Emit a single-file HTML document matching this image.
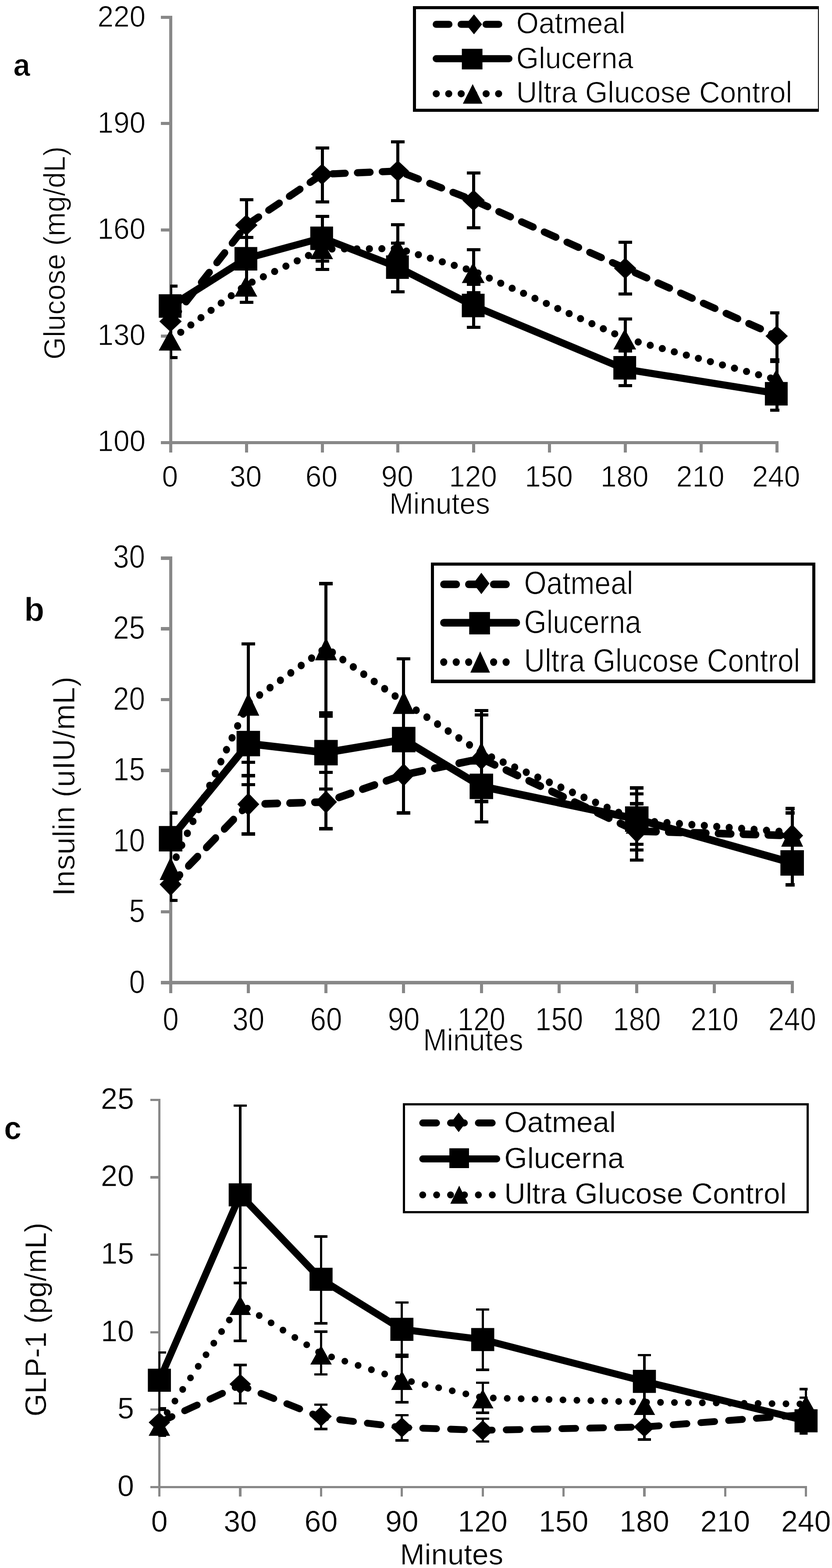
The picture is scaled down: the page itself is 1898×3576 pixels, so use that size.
<!DOCTYPE html>
<html lang="en">
<head>
<meta charset="utf-8">
<title>Glucose, insulin and GLP-1 responses</title>
<style>
html,body{margin:0;padding:0;background:#fff;}
body{width:1898px;height:3576px;overflow:hidden;}
svg{display:block;}
text{font-family:'Liberation Sans',sans-serif;font-kerning:none;}
</style>
</head>
<body>
<svg width="1898" height="3576" viewBox="0 0 1898 3576" role="img" aria-label="Glucose, insulin and GLP-1 responses over 240 minutes">
<rect width="1898" height="3576" fill="#fff"/>
<g id="axes-a" shape-rendering="crispEdges">
<rect x="385.8" y="35.5" width="7" height="996.3" fill="#888888"/>
<rect x="366.8" y="1005.8" width="1408.8" height="7" fill="#888888"/>
<rect x="366.8" y="1005.8" width="22.5" height="7" fill="#888888"/>
<rect x="366.8" y="763.22" width="22.5" height="7" fill="#888888"/>
<rect x="366.8" y="520.65" width="22.5" height="7" fill="#888888"/>
<rect x="366.8" y="278.08" width="22.5" height="7" fill="#888888"/>
<rect x="366.8" y="35.5" width="22.5" height="7" fill="#888888"/>
<rect x="385.8" y="1009.3" width="7" height="22.5" fill="#888888"/>
<rect x="558.65" y="1009.3" width="7" height="22.5" fill="#888888"/>
<rect x="731.5" y="1009.3" width="7" height="22.5" fill="#888888"/>
<rect x="904.35" y="1009.3" width="7" height="22.5" fill="#888888"/>
<rect x="1077.2" y="1009.3" width="7" height="22.5" fill="#888888"/>
<rect x="1250.05" y="1009.3" width="7" height="22.5" fill="#888888"/>
<rect x="1422.9" y="1009.3" width="7" height="22.5" fill="#888888"/>
<rect x="1595.75" y="1009.3" width="7" height="22.5" fill="#888888"/>
<rect x="1768.6" y="1009.3" width="7" height="22.5" fill="#888888"/>
</g>
<g id="labels-a" fill="#000">
<text transform="translate(332 1029.2) scale(1 1.045)" font-size="65.7" text-anchor="end" font-weight="normal" font-family="'Liberation Sans', sans-serif" stroke="#fff" stroke-width="1.0">100</text>
<text transform="translate(332 787.2) scale(1 1.045)" font-size="65.7" text-anchor="end" font-weight="normal" font-family="'Liberation Sans', sans-serif" stroke="#fff" stroke-width="1.0">130</text>
<text transform="translate(332 545.2) scale(1 1.045)" font-size="65.7" text-anchor="end" font-weight="normal" font-family="'Liberation Sans', sans-serif" stroke="#fff" stroke-width="1.0">160</text>
<text transform="translate(332 303.2) scale(1 1.045)" font-size="65.7" text-anchor="end" font-weight="normal" font-family="'Liberation Sans', sans-serif" stroke="#fff" stroke-width="1.0">190</text>
<text transform="translate(332 61.2) scale(1 1.045)" font-size="65.7" text-anchor="end" font-weight="normal" font-family="'Liberation Sans', sans-serif" stroke="#fff" stroke-width="1.0">220</text>
<text transform="translate(387.7 1109.7) scale(1 1.045)" font-size="65.7" text-anchor="middle" font-weight="normal" font-family="'Liberation Sans', sans-serif" stroke="#fff" stroke-width="1.0">0</text>
<text transform="translate(560.55 1109.7) scale(1 1.045)" font-size="65.7" text-anchor="middle" font-weight="normal" font-family="'Liberation Sans', sans-serif" stroke="#fff" stroke-width="1.0">30</text>
<text transform="translate(733.4 1109.7) scale(1 1.045)" font-size="65.7" text-anchor="middle" font-weight="normal" font-family="'Liberation Sans', sans-serif" stroke="#fff" stroke-width="1.0">60</text>
<text transform="translate(906.25 1109.7) scale(1 1.045)" font-size="65.7" text-anchor="middle" font-weight="normal" font-family="'Liberation Sans', sans-serif" stroke="#fff" stroke-width="1.0">90</text>
<text transform="translate(1079.1 1109.7) scale(1 1.045)" font-size="65.7" text-anchor="middle" font-weight="normal" font-family="'Liberation Sans', sans-serif" stroke="#fff" stroke-width="1.0">120</text>
<text transform="translate(1251.95 1109.7) scale(1 1.045)" font-size="65.7" text-anchor="middle" font-weight="normal" font-family="'Liberation Sans', sans-serif" stroke="#fff" stroke-width="1.0">150</text>
<text transform="translate(1424.8 1109.7) scale(1 1.045)" font-size="65.7" text-anchor="middle" font-weight="normal" font-family="'Liberation Sans', sans-serif" stroke="#fff" stroke-width="1.0">180</text>
<text transform="translate(1597.65 1109.7) scale(1 1.045)" font-size="65.7" text-anchor="middle" font-weight="normal" font-family="'Liberation Sans', sans-serif" stroke="#fff" stroke-width="1.0">210</text>
<text transform="translate(1770.5 1109.7) scale(1 1.045)" font-size="65.7" text-anchor="middle" font-weight="normal" font-family="'Liberation Sans', sans-serif" stroke="#fff" stroke-width="1.0">240</text>
<text transform="translate(888.22 1171.7) scale(1 1.031)" font-size="65.59" text-anchor="start" font-weight="normal" font-family="'Liberation Sans', sans-serif" stroke="#fff" stroke-width="1.0">Minutes</text>
<text transform="translate(148.2 820.11) rotate(-90) scale(1 1.0408)" font-size="65.78" text-anchor="start" font-weight="normal" font-family="'Liberation Sans', sans-serif" stroke="#fff" stroke-width="1.0">Glucose (mg/dL)</text>
<text transform="translate(30.59 172.6) scale(1 1.0613)" font-size="68.64" text-anchor="start" font-weight="bold" font-family="'Liberation Sans', sans-serif" stroke="#fff" stroke-width="1.0">a</text>
</g>
<clipPath id="clip-a"><rect x="388.2" y="0" width="1389.8" height="1200"/></clipPath>
<g id="err-a" clip-path="url(#clip-a)" fill="#000" shape-rendering="crispEdges">
<rect x="385.8" y="652" width="7" height="163" fill="#000"/>
<rect x="373.8" y="648.5" width="31" height="7" fill="#000"/>
<rect x="373.8" y="811.5" width="31" height="7" fill="#000"/>
<rect x="558.65" y="455.6" width="7" height="234.1" fill="#000"/>
<rect x="546.65" y="452.1" width="31" height="7" fill="#000"/>
<rect x="546.65" y="537.5" width="31" height="7" fill="#000"/>
<rect x="546.65" y="686.2" width="31" height="7" fill="#000"/>
<rect x="731.5" y="337.4" width="7" height="122.7" fill="#000"/>
<rect x="731.5" y="493.9" width="7" height="120.3" fill="#000"/>
<rect x="719.5" y="333.9" width="31" height="7" fill="#000"/>
<rect x="719.5" y="456.6" width="31" height="7" fill="#000"/>
<rect x="719.5" y="490.4" width="31" height="7" fill="#000"/>
<rect x="719.5" y="591.6" width="31" height="7" fill="#000"/>
<rect x="719.5" y="610.7" width="31" height="7" fill="#000"/>
<rect x="904.35" y="323" width="7" height="134.3" fill="#000"/>
<rect x="904.35" y="512" width="7" height="153.7" fill="#000"/>
<rect x="892.35" y="319.5" width="31" height="7" fill="#000"/>
<rect x="892.35" y="453.8" width="31" height="7" fill="#000"/>
<rect x="892.35" y="508.5" width="31" height="7" fill="#000"/>
<rect x="892.35" y="550.5" width="31" height="7" fill="#000"/>
<rect x="892.35" y="662.2" width="31" height="7" fill="#000"/>
<rect x="1077.2" y="394.5" width="7" height="124.8" fill="#000"/>
<rect x="1077.2" y="569.3" width="7" height="177" fill="#000"/>
<rect x="1065.2" y="391" width="31" height="7" fill="#000"/>
<rect x="1065.2" y="515.8" width="31" height="7" fill="#000"/>
<rect x="1065.2" y="565.8" width="31" height="7" fill="#000"/>
<rect x="1065.2" y="645" width="31" height="7" fill="#000"/>
<rect x="1065.2" y="664.1" width="31" height="7" fill="#000"/>
<rect x="1065.2" y="742.8" width="31" height="7" fill="#000"/>
<rect x="1422.9" y="552.6" width="7" height="118.3" fill="#000"/>
<rect x="1422.9" y="727.7" width="7" height="151.9" fill="#000"/>
<rect x="1410.9" y="549.1" width="31" height="7" fill="#000"/>
<rect x="1410.9" y="667.4" width="31" height="7" fill="#000"/>
<rect x="1410.9" y="724.2" width="31" height="7" fill="#000"/>
<rect x="1410.9" y="797" width="31" height="7" fill="#000"/>
<rect x="1410.9" y="876.1" width="31" height="7" fill="#000"/>
<rect x="1768.6" y="713.5" width="7" height="222.2" fill="#000"/>
<rect x="1756.6" y="710" width="31" height="7" fill="#000"/>
<rect x="1756.6" y="816.7" width="31" height="11.3" fill="#000"/>
<rect x="1756.6" y="932.2" width="31" height="7" fill="#000"/>
</g>
<g id="series-a" fill="#000">
<path d="M389.3,733 L562.15,513.5 L735,397.5 L907.85,390 L1080.7,457 L1426.4,611.9 L1772.1,766.5" fill="none" stroke="#000" stroke-width="16.3" stroke-linejoin="round" stroke-dasharray="28.9 27.9" stroke-dashoffset="0" stroke-linecap="round"/>
<path d="M389.3,698.5 L562.15,589.5 L735,542.5 L907.85,609.5 L1080.7,697.5 L1426.4,842 L1772.1,897.2" fill="none" stroke="#000" stroke-width="16.3" stroke-linejoin="round" stroke-linecap="butt"/>
<path d="M389.3,774.5 L562.15,649.5 L735,568 L907.85,567 L1080.7,618.5 L1426.4,772 L1772.1,866" fill="none" stroke="#000" stroke-width="16.3" stroke-linejoin="round" stroke-dasharray="0 28.45" stroke-dashoffset="0" stroke-linecap="round"/>
<polygon points="363.5,733 389,709 414.5,733 389,757"/>
<polygon points="536.35,513.5 561.85,489.5 587.35,513.5 561.85,537.5"/>
<polygon points="709.2,397.5 734.7,373.5 760.2,397.5 734.7,421.5"/>
<polygon points="882.05,390 907.55,366 933.05,390 907.55,414"/>
<polygon points="1054.9,457 1080.4,433 1105.9,457 1080.4,481"/>
<polygon points="1400.6,611.9 1426.1,587.9 1451.6,611.9 1426.1,635.9"/>
<polygon points="1746.3,766.5 1771.8,742.5 1797.3,766.5 1771.8,790.5"/>
<polygon points="362.1,799.4 388.1,752.4 414.1,799.4"/>
<polygon points="534.95,676.4 560.95,629.4 586.95,676.4"/>
<polygon points="707.8,591 733.8,544 759.8,591"/>
<polygon points="880.65,590.5 906.65,543.5 932.65,590.5"/>
<polygon points="1053.5,645.5 1079.5,598.5 1105.5,645.5"/>
<polygon points="1399.2,797 1425.2,750 1451.2,797"/>
<polygon points="1744.9,889.5 1770.9,842.5 1796.9,889.5"/>
<rect x="362.1" y="671.1" width="52" height="53.6" fill="#000"/>
<rect x="534.95" y="563.4" width="52" height="53.6" fill="#000"/>
<rect x="707.8" y="516.7" width="52" height="53.6" fill="#000"/>
<rect x="880.65" y="582.4" width="52" height="53.6" fill="#000"/>
<rect x="1053.5" y="669.9" width="52" height="53.6" fill="#000"/>
<rect x="1399.2" y="812" width="52" height="53.6" fill="#000"/>
<rect x="1744.9" y="871.2" width="52" height="53.6" fill="#000"/>
</g>
<g id="legend-a" fill="#000">
<g shape-rendering="crispEdges">
<rect x="942.1" y="14.1" width="925.9" height="241.2" fill="#fff"/>
<rect x="942.1" y="14.1" width="925.9" height="7" fill="#000"/>
<rect x="942.1" y="248.3" width="925.9" height="7" fill="#000"/>
<rect x="942.1" y="14.1" width="7" height="241.2" fill="#000"/>
<rect x="1865.5" y="14.1" width="2.5" height="241.2" fill="#000"/>
</g>
<path d="M995.2,55.5 L1160.9,55.5" fill="none" stroke="#000" stroke-width="16.2" stroke-linejoin="round" stroke-dasharray="28.9 27.9" stroke-dashoffset="0" stroke-linecap="round"/>
<path d="M995.2,133.8 L1160.9,133.8" fill="none" stroke="#000" stroke-width="16.2" stroke-linejoin="round" stroke-linecap="round"/>
<path d="M995.2,213.8 L1160.9,213.8" fill="none" stroke="#000" stroke-width="16.2" stroke-linejoin="round" stroke-dasharray="0 28.45" stroke-dashoffset="0" stroke-linecap="round"/>
<polygon points="1062.8,55.5 1081.3,32.8 1099.8,55.5 1081.3,78.2"/>
<rect x="1053.6" y="111.3" width="47" height="47" fill="#000"/>
<polygon points="1055.9,236.5 1078.3,191.7 1100.7,236.5"/>
<text transform="translate(1177.8 76) scale(1 1.03)" font-size="65.85" text-anchor="start" font-weight="normal" font-family="'Liberation Sans', sans-serif" stroke="#fff" stroke-width="1.0">Oatmeal</text>
<text transform="translate(1177.8 155.8) scale(1 1.03)" font-size="65.85" text-anchor="start" font-weight="normal" font-family="'Liberation Sans', sans-serif" stroke="#fff" stroke-width="1.0">Glucerna</text>
<text transform="translate(1177.8 234) scale(1 1.03)" font-size="65.85" text-anchor="start" font-weight="normal" font-family="'Liberation Sans', sans-serif" stroke="#fff" stroke-width="1.0">Ultra Glucose Control</text>
</g>
<g id="axes-b" shape-rendering="crispEdges">
<rect x="385.7" y="1269.1" width="7" height="996.3" fill="#888888"/>
<rect x="366.7" y="2237.4" width="1443.92" height="7.4" fill="#888888"/>
<rect x="366.7" y="2237.4" width="22.5" height="7.4" fill="#888888"/>
<rect x="366.7" y="2076.02" width="22.5" height="7.4" fill="#888888"/>
<rect x="366.7" y="1914.63" width="22.5" height="7.4" fill="#888888"/>
<rect x="366.7" y="1753.25" width="22.5" height="7.4" fill="#888888"/>
<rect x="366.7" y="1591.87" width="22.5" height="7.4" fill="#888888"/>
<rect x="366.7" y="1430.48" width="22.5" height="7.4" fill="#888888"/>
<rect x="366.7" y="1269.1" width="22.5" height="7.4" fill="#888888"/>
<rect x="385.7" y="2241.1" width="7" height="24.3" fill="#888888"/>
<rect x="562.94" y="2241.1" width="7" height="24.3" fill="#888888"/>
<rect x="740.18" y="2241.1" width="7" height="24.3" fill="#888888"/>
<rect x="917.42" y="2241.1" width="7" height="24.3" fill="#888888"/>
<rect x="1094.66" y="2241.1" width="7" height="24.3" fill="#888888"/>
<rect x="1271.9" y="2241.1" width="7" height="24.3" fill="#888888"/>
<rect x="1449.14" y="2241.1" width="7" height="24.3" fill="#888888"/>
<rect x="1626.38" y="2241.1" width="7" height="24.3" fill="#888888"/>
<rect x="1803.62" y="2241.1" width="7" height="24.3" fill="#888888"/>
</g>
<g id="labels-b" fill="#000">
<text transform="translate(330.8 2265.1) scale(1 1.125)" font-size="65.5" text-anchor="end" font-weight="normal" font-family="'Liberation Sans', sans-serif" stroke="#fff" stroke-width="1.0">0</text>
<text transform="translate(330.8 2103.48) scale(1 1.125)" font-size="65.5" text-anchor="end" font-weight="normal" font-family="'Liberation Sans', sans-serif" stroke="#fff" stroke-width="1.0">5</text>
<text transform="translate(330.8 1941.87) scale(1 1.125)" font-size="65.5" text-anchor="end" font-weight="normal" font-family="'Liberation Sans', sans-serif" stroke="#fff" stroke-width="1.0">10</text>
<text transform="translate(330.8 1780.25) scale(1 1.125)" font-size="65.5" text-anchor="end" font-weight="normal" font-family="'Liberation Sans', sans-serif" stroke="#fff" stroke-width="1.0">15</text>
<text transform="translate(330.8 1618.63) scale(1 1.125)" font-size="65.5" text-anchor="end" font-weight="normal" font-family="'Liberation Sans', sans-serif" stroke="#fff" stroke-width="1.0">20</text>
<text transform="translate(330.8 1457.02) scale(1 1.125)" font-size="65.5" text-anchor="end" font-weight="normal" font-family="'Liberation Sans', sans-serif" stroke="#fff" stroke-width="1.0">25</text>
<text transform="translate(330.8 1295.4) scale(1 1.125)" font-size="65.5" text-anchor="end" font-weight="normal" font-family="'Liberation Sans', sans-serif" stroke="#fff" stroke-width="1.0">30</text>
<text transform="translate(389.4 2349.5) scale(1 1.125)" font-size="65.5" text-anchor="middle" font-weight="normal" font-family="'Liberation Sans', sans-serif" stroke="#fff" stroke-width="1.0">0</text>
<text transform="translate(566.64 2349.5) scale(1 1.125)" font-size="65.5" text-anchor="middle" font-weight="normal" font-family="'Liberation Sans', sans-serif" stroke="#fff" stroke-width="1.0">30</text>
<text transform="translate(743.88 2349.5) scale(1 1.125)" font-size="65.5" text-anchor="middle" font-weight="normal" font-family="'Liberation Sans', sans-serif" stroke="#fff" stroke-width="1.0">60</text>
<text transform="translate(921.12 2349.5) scale(1 1.125)" font-size="65.5" text-anchor="middle" font-weight="normal" font-family="'Liberation Sans', sans-serif" stroke="#fff" stroke-width="1.0">90</text>
<text transform="translate(1098.36 2349.5) scale(1 1.125)" font-size="65.5" text-anchor="middle" font-weight="normal" font-family="'Liberation Sans', sans-serif" stroke="#fff" stroke-width="1.0">120</text>
<text transform="translate(1275.6 2349.5) scale(1 1.125)" font-size="65.5" text-anchor="middle" font-weight="normal" font-family="'Liberation Sans', sans-serif" stroke="#fff" stroke-width="1.0">150</text>
<text transform="translate(1452.84 2349.5) scale(1 1.125)" font-size="65.5" text-anchor="middle" font-weight="normal" font-family="'Liberation Sans', sans-serif" stroke="#fff" stroke-width="1.0">180</text>
<text transform="translate(1630.08 2349.5) scale(1 1.125)" font-size="65.5" text-anchor="middle" font-weight="normal" font-family="'Liberation Sans', sans-serif" stroke="#fff" stroke-width="1.0">210</text>
<text transform="translate(1807.32 2349.5) scale(1 1.125)" font-size="65.5" text-anchor="middle" font-weight="normal" font-family="'Liberation Sans', sans-serif" stroke="#fff" stroke-width="1.0">240</text>
<text transform="translate(965.25 2396.4) scale(1 1.0773)" font-size="65.2" text-anchor="start" font-weight="normal" font-family="'Liberation Sans', sans-serif" stroke="#fff" stroke-width="1.0">Minutes</text>
<text transform="translate(169.6 2043.65) rotate(-90) scale(1 0.979)" font-size="70.97" text-anchor="start" font-weight="normal" font-family="'Liberation Sans', sans-serif" stroke="#fff" stroke-width="1.0">Insulin (uIU/mL)</text>
<text transform="translate(55.02 1416.3) scale(1 1.0148)" font-size="75.61" text-anchor="start" font-weight="bold" font-family="'Liberation Sans', sans-serif" stroke="#fff" stroke-width="1.0">b</text>
</g>
<clipPath id="clip-b"><rect x="387.8" y="1200" width="1425" height="1200"/></clipPath>
<g id="err-b" clip-path="url(#clip-b)" fill="#000" shape-rendering="crispEdges">
<rect x="385.7" y="1853.8" width="7" height="199.9" fill="#000"/>
<rect x="373.7" y="1850.05" width="31" height="7.5" fill="#000"/>
<rect x="373.7" y="2049.95" width="31" height="7.5" fill="#000"/>
<rect x="562.94" y="1468.7" width="7" height="433.4" fill="#000"/>
<rect x="550.94" y="1464.95" width="31" height="7.5" fill="#000"/>
<rect x="550.94" y="1734.55" width="31" height="7.5" fill="#000"/>
<rect x="550.94" y="1765.25" width="31" height="7.5" fill="#000"/>
<rect x="550.94" y="1785.75" width="31" height="7.5" fill="#000"/>
<rect x="550.94" y="1898.35" width="31" height="7.5" fill="#000"/>
<rect x="740.18" y="1331" width="7" height="558.9" fill="#000"/>
<rect x="728.18" y="1327.25" width="31" height="7.5" fill="#000"/>
<rect x="728.18" y="1622.3" width="31" height="14.3" fill="#000"/>
<rect x="728.18" y="1757.55" width="31" height="7.5" fill="#000"/>
<rect x="728.18" y="1795.95" width="31" height="7.5" fill="#000"/>
<rect x="728.18" y="1886.15" width="31" height="7.5" fill="#000"/>
<rect x="917.42" y="1502.3" width="7" height="351.5" fill="#000"/>
<rect x="905.42" y="1498.55" width="31" height="7.5" fill="#000"/>
<rect x="905.42" y="1850.05" width="31" height="7.5" fill="#000"/>
<rect x="1094.66" y="1620.3" width="7" height="254" fill="#000"/>
<rect x="1082.66" y="1616.55" width="31" height="7.5" fill="#000"/>
<rect x="1082.66" y="1626.75" width="31" height="7.5" fill="#000"/>
<rect x="1082.66" y="1824.45" width="31" height="7.5" fill="#000"/>
<rect x="1082.66" y="1870.55" width="31" height="7.5" fill="#000"/>
<rect x="1449.14" y="1797.2" width="7" height="164.3" fill="#000"/>
<rect x="1437.14" y="1793.45" width="31" height="7.5" fill="#000"/>
<rect x="1437.14" y="1806.55" width="31" height="7.5" fill="#000"/>
<rect x="1437.14" y="1829.35" width="31" height="7.5" fill="#000"/>
<rect x="1437.14" y="1921.85" width="31" height="7.5" fill="#000"/>
<rect x="1437.14" y="1934.95" width="31" height="7.5" fill="#000"/>
<rect x="1437.14" y="1957.75" width="31" height="7.5" fill="#000"/>
<rect x="1803.62" y="1843.8" width="7" height="174.2" fill="#000"/>
<rect x="1791.62" y="1840.05" width="31" height="7.5" fill="#000"/>
<rect x="1791.62" y="1850.05" width="31" height="7.5" fill="#000"/>
<rect x="1791.62" y="2014.25" width="31" height="7.5" fill="#000"/>
</g>
<g id="series-b" fill="#000">
<path d="M389.2,1885.05 L566.44,1714.3 L743.68,1709.35 L920.92,1651.4 L1098.16,1616.82 L1452.64,1771.5 L1807.12,1781.03" transform="scale(1 1.07)" fill="none" stroke="#000" stroke-width="16.3" stroke-linejoin="round" stroke-dasharray="28.9 27.9" stroke-dashoffset="0" stroke-linecap="round"/>
<path d="M389.2,1787.66 L566.44,1584.86 L743.68,1604.21 L920.92,1576.36 L1098.16,1676.07 L1452.64,1745.79 L1807.12,1839.25" transform="scale(1 1.07)" fill="none" stroke="#000" stroke-width="16.3" stroke-linejoin="round" stroke-linecap="butt"/>
<path d="M389.2,1852.34 L566.44,1498.6 L743.68,1380.84 L920.92,1496.26 L1098.16,1604.21 L1452.64,1748.6 L1807.12,1774.3" transform="scale(1 1.07)" fill="none" stroke="#000" stroke-width="16.3" stroke-linejoin="round" stroke-dasharray="0 28.45" stroke-dashoffset="0" stroke-linecap="round"/>
<polygon points="364.2,2017 389.2,1991 414.2,2017 389.2,2043"/>
<polygon points="541.44,1834.3 566.44,1808.3 591.44,1834.3 566.44,1860.3"/>
<polygon points="718.68,1829 743.68,1803 768.68,1829 743.68,1855"/>
<polygon points="895.92,1767 920.92,1741 945.92,1767 920.92,1793"/>
<polygon points="1073.16,1730 1098.16,1704 1123.16,1730 1098.16,1756"/>
<polygon points="1427.64,1895.5 1452.64,1869.5 1477.64,1895.5 1452.64,1921.5"/>
<polygon points="1782.12,1905.7 1807.12,1879.7 1832.12,1905.7 1807.12,1931.7"/>
<polygon points="364.2,2007.05 389.2,1954.55 414.2,2007.05"/>
<polygon points="541.44,1632.25 566.44,1579.75 591.44,1632.25"/>
<polygon points="718.68,1505.95 743.68,1453.45 768.68,1505.95"/>
<polygon points="895.92,1628.25 920.92,1575.75 945.92,1628.25"/>
<polygon points="1073.16,1743.75 1098.16,1691.25 1123.16,1743.75"/>
<polygon points="1427.64,1901.25 1452.64,1848.75 1477.64,1901.25"/>
<polygon points="1782.12,1930.95 1807.12,1878.45 1832.12,1930.95"/>
<rect x="362.4" y="1883.8" width="53.6" height="58" fill="#000"/>
<rect x="539.64" y="1666.8" width="53.6" height="58" fill="#000"/>
<rect x="716.88" y="1687.5" width="53.6" height="58" fill="#000"/>
<rect x="894.12" y="1657.7" width="53.6" height="58" fill="#000"/>
<rect x="1071.36" y="1764.4" width="53.6" height="58" fill="#000"/>
<rect x="1425.84" y="1839" width="53.6" height="58" fill="#000"/>
<rect x="1780.32" y="1939" width="53.6" height="58" fill="#000"/>
</g>
<g id="legend-b" fill="#000">
<g shape-rendering="crispEdges">
<rect x="982.8" y="1283.1" width="877.3" height="274.4" fill="#fff"/>
<rect x="982.8" y="1283.1" width="877.3" height="7.3" fill="#000"/>
<rect x="982.8" y="1550.2" width="877.3" height="7.3" fill="#000"/>
<rect x="982.8" y="1283.1" width="7.3" height="274.4" fill="#000"/>
<rect x="1852.8" y="1283.1" width="7.3" height="274.4" fill="#000"/>
</g>
<path d="M1012.3,1245.42 L1178.2,1245.42" transform="scale(1 1.07)" fill="none" stroke="#000" stroke-width="16.3" stroke-linejoin="round" stroke-dasharray="28.9 27.9" stroke-dashoffset="0" stroke-linecap="round"/>
<path d="M1012.3,1327.29 L1178.2,1327.29" transform="scale(1 1.07)" fill="none" stroke="#000" stroke-width="16.3" stroke-linejoin="round" stroke-linecap="round"/>
<path d="M1012.3,1411.21 L1178.2,1411.21" transform="scale(1 1.07)" fill="none" stroke="#000" stroke-width="16.3" stroke-linejoin="round" stroke-dasharray="0 28.45" stroke-dashoffset="0" stroke-linecap="round"/>
<polygon points="1079.6,1330.7 1098.1,1306.3 1116.6,1330.7 1098.1,1355.1"/>
<rect x="1070.4" y="1395.8" width="47.4" height="51" fill="#000"/>
<polygon points="1073,1534 1095.4,1485.4 1117.8,1534"/>
<text transform="translate(1195.4 1355) scale(1 1.12)" font-size="65.9" text-anchor="start" font-weight="normal" font-family="'Liberation Sans', sans-serif" stroke="#fff" stroke-width="1.0">Oatmeal</text>
<text transform="translate(1195.4 1444.3) scale(1 1.12)" font-size="65.9" text-anchor="start" font-weight="normal" font-family="'Liberation Sans', sans-serif" stroke="#fff" stroke-width="1.0">Glucerna</text>
<text transform="translate(1195.4 1532) scale(1 1.12)" font-size="65.9" text-anchor="start" font-weight="normal" font-family="'Liberation Sans', sans-serif" stroke="#fff" stroke-width="1.0">Ultra Glucose Control</text>
</g>
<g id="axes-c" shape-rendering="crispEdges">
<rect x="361" y="2505.8" width="5.2" height="906.7" fill="#888888"/>
<rect x="342.6" y="3388.9" width="1498.8" height="5.2" fill="#888888"/>
<rect x="342.6" y="3388.9" width="21" height="5.2" fill="#888888"/>
<rect x="342.6" y="3212.28" width="21" height="5.2" fill="#888888"/>
<rect x="342.6" y="3035.66" width="21" height="5.2" fill="#888888"/>
<rect x="342.6" y="2859.04" width="21" height="5.2" fill="#888888"/>
<rect x="342.6" y="2682.42" width="21" height="5.2" fill="#888888"/>
<rect x="342.6" y="2505.8" width="21" height="5.2" fill="#888888"/>
<rect x="361" y="3391.5" width="5.2" height="21" fill="#888888"/>
<rect x="545.4" y="3391.5" width="5.2" height="21" fill="#888888"/>
<rect x="729.8" y="3391.5" width="5.2" height="21" fill="#888888"/>
<rect x="914.2" y="3391.5" width="5.2" height="21" fill="#888888"/>
<rect x="1098.6" y="3391.5" width="5.2" height="21" fill="#888888"/>
<rect x="1283" y="3391.5" width="5.2" height="21" fill="#888888"/>
<rect x="1467.4" y="3391.5" width="5.2" height="21" fill="#888888"/>
<rect x="1651.8" y="3391.5" width="5.2" height="21" fill="#888888"/>
<rect x="1836.2" y="3391.5" width="5.2" height="21" fill="#888888"/>
</g>
<g id="labels-c" fill="#000">
<text transform="translate(305.7 3412.1) scale(1 1.02)" font-size="68" text-anchor="end" font-weight="normal" font-family="'Liberation Sans', sans-serif" stroke="#fff" stroke-width="0.6">0</text>
<text transform="translate(305.7 3235.4) scale(1 1.02)" font-size="68" text-anchor="end" font-weight="normal" font-family="'Liberation Sans', sans-serif" stroke="#fff" stroke-width="0.6">5</text>
<text transform="translate(305.7 3058.7) scale(1 1.02)" font-size="68" text-anchor="end" font-weight="normal" font-family="'Liberation Sans', sans-serif" stroke="#fff" stroke-width="0.6">10</text>
<text transform="translate(305.7 2882) scale(1 1.02)" font-size="68" text-anchor="end" font-weight="normal" font-family="'Liberation Sans', sans-serif" stroke="#fff" stroke-width="0.6">15</text>
<text transform="translate(305.7 2705.3) scale(1 1.02)" font-size="68" text-anchor="end" font-weight="normal" font-family="'Liberation Sans', sans-serif" stroke="#fff" stroke-width="0.6">20</text>
<text transform="translate(305.7 2528.6) scale(1 1.02)" font-size="68" text-anchor="end" font-weight="normal" font-family="'Liberation Sans', sans-serif" stroke="#fff" stroke-width="0.6">25</text>
<text transform="translate(363.6 3493.4) scale(1 1.02)" font-size="68" text-anchor="middle" font-weight="normal" font-family="'Liberation Sans', sans-serif" stroke="#fff" stroke-width="0.6">0</text>
<text transform="translate(548 3493.4) scale(1 1.02)" font-size="68" text-anchor="middle" font-weight="normal" font-family="'Liberation Sans', sans-serif" stroke="#fff" stroke-width="0.6">30</text>
<text transform="translate(732.4 3493.4) scale(1 1.02)" font-size="68" text-anchor="middle" font-weight="normal" font-family="'Liberation Sans', sans-serif" stroke="#fff" stroke-width="0.6">60</text>
<text transform="translate(916.8 3493.4) scale(1 1.02)" font-size="68" text-anchor="middle" font-weight="normal" font-family="'Liberation Sans', sans-serif" stroke="#fff" stroke-width="0.6">90</text>
<text transform="translate(1101.2 3493.4) scale(1 1.02)" font-size="68" text-anchor="middle" font-weight="normal" font-family="'Liberation Sans', sans-serif" stroke="#fff" stroke-width="0.6">120</text>
<text transform="translate(1285.6 3493.4) scale(1 1.02)" font-size="68" text-anchor="middle" font-weight="normal" font-family="'Liberation Sans', sans-serif" stroke="#fff" stroke-width="0.6">150</text>
<text transform="translate(1470 3493.4) scale(1 1.02)" font-size="68" text-anchor="middle" font-weight="normal" font-family="'Liberation Sans', sans-serif" stroke="#fff" stroke-width="0.6">180</text>
<text transform="translate(1654.4 3493.4) scale(1 1.02)" font-size="68" text-anchor="middle" font-weight="normal" font-family="'Liberation Sans', sans-serif" stroke="#fff" stroke-width="0.6">210</text>
<text transform="translate(1838.8 3493.4) scale(1 1.02)" font-size="68" text-anchor="middle" font-weight="normal" font-family="'Liberation Sans', sans-serif" stroke="#fff" stroke-width="0.6">240</text>
<text transform="translate(912.48 3567.8) scale(1 0.9838)" font-size="67.33" text-anchor="start" font-weight="normal" font-family="'Liberation Sans', sans-serif" stroke="#fff" stroke-width="0.6">Minutes</text>
<text transform="translate(104.5 3230.46) rotate(-90) scale(1 1.0174)" font-size="66.87" text-anchor="start" font-weight="normal" font-family="'Liberation Sans', sans-serif" stroke="#fff" stroke-width="0.6">GLP-1 (pg/mL)</text>
<text transform="translate(9.23 2597.6) scale(1 1.0559)" font-size="70.93" text-anchor="start" font-weight="bold" font-family="'Liberation Sans', sans-serif" stroke="#fff" stroke-width="0.6">c</text>
</g>
<clipPath id="clip-c"><rect x="361.2" y="2400" width="1481.2" height="1176"/></clipPath>
<g id="err-c" clip-path="url(#clip-c)" fill="#000" shape-rendering="crispEdges">
<rect x="361" y="3084.4" width="5.2" height="190.1" fill="#000"/>
<rect x="348.6" y="3081.65" width="30" height="5.5" fill="#000"/>
<rect x="348.6" y="3208.7" width="30" height="9.3" fill="#000"/>
<rect x="348.6" y="3271.75" width="30" height="5.5" fill="#000"/>
<rect x="545.4" y="2521.3" width="5.2" height="536.7" fill="#000"/>
<rect x="545.4" y="3113.2" width="5.2" height="87.5" fill="#000"/>
<rect x="533" y="2518.55" width="30" height="5.5" fill="#000"/>
<rect x="533" y="2888.75" width="30" height="5.5" fill="#000"/>
<rect x="533" y="2923.45" width="30" height="5.5" fill="#000"/>
<rect x="533" y="3055.25" width="30" height="5.5" fill="#000"/>
<rect x="533" y="3110.45" width="30" height="5.5" fill="#000"/>
<rect x="533" y="3197.95" width="30" height="5.5" fill="#000"/>
<rect x="729.8" y="2820.2" width="5.2" height="197.9" fill="#000"/>
<rect x="729.8" y="3037.2" width="5.2" height="97.3" fill="#000"/>
<rect x="729.8" y="3203.6" width="5.2" height="55.6" fill="#000"/>
<rect x="717.4" y="2817.45" width="30" height="5.5" fill="#000"/>
<rect x="717.4" y="3015.35" width="30" height="5.5" fill="#000"/>
<rect x="717.4" y="3034.45" width="30" height="5.5" fill="#000"/>
<rect x="717.4" y="3131.75" width="30" height="5.5" fill="#000"/>
<rect x="717.4" y="3200.85" width="30" height="5.5" fill="#000"/>
<rect x="717.4" y="3256.45" width="30" height="5.5" fill="#000"/>
<rect x="914.2" y="2970.6" width="5.2" height="227.5" fill="#000"/>
<rect x="914.2" y="3227.4" width="5.2" height="57.8" fill="#000"/>
<rect x="901.8" y="2967.85" width="30" height="5.5" fill="#000"/>
<rect x="901.8" y="3087" width="30" height="10" fill="#000"/>
<rect x="901.8" y="3195.35" width="30" height="5.5" fill="#000"/>
<rect x="901.8" y="3224.65" width="30" height="5.5" fill="#000"/>
<rect x="901.8" y="3282.45" width="30" height="5.5" fill="#000"/>
<rect x="1098.6" y="2986.7" width="5.2" height="137.5" fill="#000"/>
<rect x="1098.6" y="3153.5" width="5.2" height="68.4" fill="#000"/>
<rect x="1098.6" y="3235.4" width="5.2" height="52.3" fill="#000"/>
<rect x="1086.2" y="2983.95" width="30" height="5.5" fill="#000"/>
<rect x="1086.2" y="3121.45" width="30" height="5.5" fill="#000"/>
<rect x="1086.2" y="3150.75" width="30" height="5.5" fill="#000"/>
<rect x="1086.2" y="3219.15" width="30" height="5.5" fill="#000"/>
<rect x="1086.2" y="3232.65" width="30" height="5.5" fill="#000"/>
<rect x="1086.2" y="3284.95" width="30" height="5.5" fill="#000"/>
<rect x="1467.4" y="3090.3" width="5.2" height="192.5" fill="#000"/>
<rect x="1455" y="3087.55" width="30" height="5.5" fill="#000"/>
<rect x="1455" y="3280.05" width="30" height="5.5" fill="#000"/>
<rect x="1836.2" y="3168.2" width="5.2" height="100.6" fill="#000"/>
<rect x="1823.8" y="3165.45" width="30" height="5.5" fill="#000"/>
<rect x="1823.8" y="3184.65" width="30" height="5.5" fill="#000"/>
<rect x="1823.8" y="3266.05" width="30" height="5.5" fill="#000"/>
</g>
<g id="series-c" fill="#000">
<path d="M363.6,3244 L548,3159 L732.4,3232.4 L916.8,3255.5 L1101.2,3262 L1470,3254.3 L1838.8,3226" fill="none" stroke="#000" stroke-width="15.6" stroke-linejoin="round" stroke-dasharray="31.5 32" stroke-dashoffset="0" stroke-linecap="round"/>
<path d="M363.6,3147.8 L548,2725 L732.4,2917.6 L916.8,3031.7 L1101.2,3055 L1470,3150.4 L1838.8,3240.3" fill="none" stroke="#000" stroke-width="16" stroke-linejoin="round" stroke-linecap="butt"/>
<path d="M363.6,3248 L548,2973.5 L732.4,3087 L916.8,3146 L1101.2,3187.6 L1470,3197.8 L1838.8,3202" fill="none" stroke="#000" stroke-width="15.4" stroke-linejoin="round" stroke-dasharray="0 31.8" stroke-dashoffset="0" stroke-linecap="round"/>
<polygon points="339.1,3244 363.6,3221 388.1,3244 363.6,3267"/>
<polygon points="523.5,3156.5 548,3133.5 572.5,3156.5 548,3179.5"/>
<polygon points="707.9,3230.3 732.4,3207.3 756.9,3230.3 732.4,3253.3"/>
<polygon points="892.3,3255.5 916.8,3232.5 941.3,3255.5 916.8,3278.5"/>
<polygon points="1076.7,3262 1101.2,3239 1125.7,3262 1101.2,3285"/>
<polygon points="1445.5,3254.3 1470,3231.3 1494.5,3254.3 1470,3277.3"/>
<polygon points="1814.3,3226 1838.8,3203 1863.3,3226 1838.8,3249"/>
<polygon points="339.1,3274.5 363.6,3230.5 388.1,3274.5"/>
<polygon points="523.5,2999 548,2955 572.5,2999"/>
<polygon points="707.9,3112 732.4,3068 756.9,3112"/>
<polygon points="892.3,3170 916.8,3126 941.3,3170"/>
<polygon points="1076.7,3212 1101.2,3168 1125.7,3212"/>
<polygon points="1445.5,3227 1470,3183 1494.5,3227"/>
<polygon points="1814.3,3226.5 1838.8,3182.5 1863.3,3226.5"/>
<rect x="337.3" y="3121.5" width="52.6" height="52.6" fill="#000"/>
<rect x="521.7" y="2698.7" width="52.6" height="52.6" fill="#000"/>
<rect x="706.1" y="2891.3" width="52.6" height="52.6" fill="#000"/>
<rect x="890.5" y="3005.4" width="52.6" height="52.6" fill="#000"/>
<rect x="1074.9" y="3028.7" width="52.6" height="52.6" fill="#000"/>
<rect x="1443.7" y="3124.1" width="52.6" height="52.6" fill="#000"/>
<rect x="1812.5" y="3214" width="52.6" height="52.6" fill="#000"/>
</g>
<g id="legend-c" fill="#000">
<g shape-rendering="crispEdges">
<rect x="919.3" y="2516.2" width="925.4" height="250.7" fill="#fff"/>
<rect x="919.3" y="2516.2" width="925.4" height="5" fill="#000"/>
<rect x="919.3" y="2761.9" width="925.4" height="5" fill="#000"/>
<rect x="919.3" y="2516.2" width="5" height="250.7" fill="#000"/>
<rect x="1839.7" y="2516.2" width="5" height="250.7" fill="#000"/>
</g>
<path d="M964.3,2561 L1133.2,2561" fill="none" stroke="#000" stroke-width="15.8" stroke-linejoin="round" stroke-dasharray="31.5 32" stroke-dashoffset="0" stroke-linecap="round"/>
<path d="M964.3,2643 L1133.2,2643" fill="none" stroke="#000" stroke-width="15.8" stroke-linejoin="round" stroke-linecap="round"/>
<path d="M964.3,2725.1 L1133.2,2725.1" fill="none" stroke="#000" stroke-width="15.8" stroke-linejoin="round" stroke-dasharray="0 31.75" stroke-dashoffset="0" stroke-linecap="round"/>
<polygon points="1029.3,2559.6 1046.3,2537.2 1063.3,2559.6 1046.3,2582"/>
<rect x="1025.1" y="2618.8" width="44.8" height="45.2" fill="#000"/>
<polygon points="1027.3,2745.25 1047.5,2703.95 1067.7,2745.25"/>
<text transform="translate(1150.3 2581.9) scale(1 0.995)" font-size="67.4" text-anchor="start" font-weight="normal" font-family="'Liberation Sans', sans-serif" stroke="#fff" stroke-width="0.6">Oatmeal</text>
<text transform="translate(1150.3 2663.6) scale(1 0.995)" font-size="67.4" text-anchor="start" font-weight="normal" font-family="'Liberation Sans', sans-serif" stroke="#fff" stroke-width="0.6">Glucerna</text>
<text transform="translate(1150.3 2744.8) scale(1 0.995)" font-size="67.4" text-anchor="start" font-weight="normal" font-family="'Liberation Sans', sans-serif" stroke="#fff" stroke-width="0.6">Ultra Glucose Control</text>
</g>
</svg>
</body>
</html>
